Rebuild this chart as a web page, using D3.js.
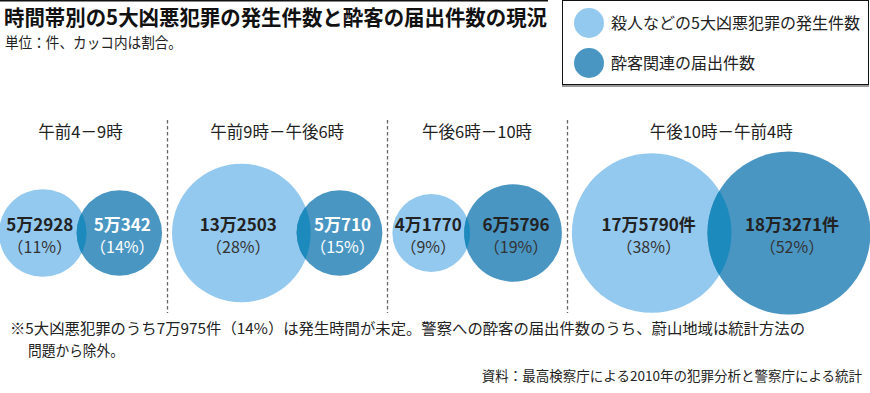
<!DOCTYPE html>
<html>
<head>
<meta charset="utf-8">
<script src="https://cdn.jsdelivr.net/npm/d3@7"></script>
<style>
  body { margin: 0; background: #fff; }
  svg { display: block; font-family: "Noto Sans CJK JP", "Noto Sans", sans-serif; }
</style>
</head>
<body>
<div id="chart"></div>
<script>
// data
const periods = ["午前4－9時", "午前9時－午後6時", "午後6時－10時", "午後10時－午前4時"];
const crimeCounts = [52928, 132503, 41770, 175790];
const crimeLabels = ["5万2928", "13万2503", "4万1770", "17万5790件"];
const crimePct = ["（11%）", "（28%）", "（9%）", "（38%）"];
const drunkCounts = [50342, 50710, 65796, 183271];
const drunkLabels = ["5万342", "5万710", "6万5796", "18万3271件"];
const drunkPct = ["（14%）", "（15%）", "（19%）", "（52%）"];

const legendItems = ["殺人などの5大凶悪犯罪の発生件数", "酔客関連の届出件数"];

const width = 870, height = 393;
const lightBlue = "#93c9ee", darkBlue = "#4a96c3", overlapBlue = "#1c8abd";

const svg = d3.select("#chart").append("svg")
    .attr("width", width)
    .attr("height", height);

// top rule + title
svg.append("line")
    .attr("x1", 0).attr("x2", 548)
    .attr("y1", 0.75).attr("y2", 0.75)
    .attr("stroke", "#111").attr("stroke-width", 1.5);

svg.append("text")
    .attr("x", 4).attr("y", 25)
    .style("font-size", "21px").style("font-weight", "bold")
    .attr("fill", "#111")
    .attr("textLength", 543)
    .attr("lengthAdjust", "spacingAndGlyphs")
    .text("時間帯別の5大凶悪犯罪の発生件数と酔客の届出件数の現況");

svg.append("text")
    .attr("x", 5).attr("y", 48)
    .style("font-size", "15px")
    .attr("fill", "#222")
    .attr("textLength", 177)
    .attr("lengthAdjust", "spacingAndGlyphs")
    .text("単位：件、カッコ内は割合。");

// legend box
const legend = svg.append("g");
legend.append("rect")
    .attr("x", 562.5).attr("y", 0.5)
    .attr("width", 306).attr("height", 84)
    .attr("fill", "#fff").attr("stroke", "#111");
legend.append("line")
    .attr("x1", 562).attr("x2", 869)
    .attr("y1", 86).attr("y2", 86)
    .attr("stroke", "#999").attr("stroke-width", 2);
legend.selectAll("circle")
    .data(legendItems)
    .enter()
    .append("circle")
    .attr("cx", 589)
    .attr("cy", (d, i) => 23 + i * 40)
    .attr("r", 15)
    .attr("fill", (d, i) => i === 0 ? lightBlue : darkBlue);
legend.selectAll("text")
    .data(legendItems)
    .enter()
    .append("text")
    .attr("x", 611)
    .attr("y", (d, i) => 29 + i * 40)
    .style("font-size", "16px")
    .attr("fill", "#222")
    .text(d => d);

// bubble size: area proportional to count
const rScale = d3.scaleSqrt()
    .domain([0, d3.max(crimeCounts.concat(drunkCounts))])
    .range([0, 81.5]);

// layout: groups packed left to right
const overlaps = [10, 14, 6, 24];
const gap = 10;
const cy = 233;

let cursor = -1;
const groups = periods.map((p, i) => {
    const r1 = rScale(crimeCounts[i]);
    const r2 = rScale(drunkCounts[i]);
    const left = cursor;
    const cx1 = left + r1;
    const cx2 = cx1 + r1 + r2 - overlaps[i];
    const right = cx2 + r2;
    cursor = right + gap;
    return {
        period: p, i: i, left: left, right: right,
        r1: r1, r2: r2, cx1: cx1, cx2: cx2
    };
});

// dashed separators between groups
svg.selectAll(".sep")
    .data(groups.slice(1))
    .enter()
    .append("line")
    .attr("class", "sep")
    .attr("x1", d => Math.round(d.left - gap / 2) + 0.5)
    .attr("x2", d => Math.round(d.left - gap / 2) + 0.5)
    .attr("y1", 120).attr("y2", 313)
    .attr("stroke", "#666")
    .attr("stroke-width", 1.3)
    .attr("stroke-dasharray", "3.5,2.5");

// group headings
svg.selectAll(".period")
    .data(groups)
    .enter()
    .append("text")
    .attr("class", "period")
    .attr("x", d => (d.left + d.right) / 2)
    .attr("y", 138)
    .attr("text-anchor", "middle")
    .style("font-size", "16.5px")
    .attr("fill", "#222")
    .text(d => d.period);

const defs = svg.append("defs");
defs.selectAll("clipPath")
    .data(groups)
    .enter()
    .append("clipPath")
    .attr("id", d => "clip-" + d.i)
    .append("circle")
    .attr("cx", d => d.cx2)
    .attr("cy", cy)
    .attr("r", d => d.r2);

const bubbles = svg.selectAll(".pair")
    .data(groups)
    .enter()
    .append("g")
    .attr("class", "pair");

bubbles.append("circle")
    .attr("cx", d => d.cx1).attr("cy", cy)
    .attr("r", d => d.r1)
    .attr("fill", lightBlue);

bubbles.append("circle")
    .attr("cx", d => d.cx2).attr("cy", cy)
    .attr("r", d => d.r2)
    .attr("fill", darkBlue);

// overlapping lens
bubbles.append("circle")
    .attr("cx", d => d.cx1).attr("cy", cy)
    .attr("r", d => d.r1)
    .attr("clip-path", d => `url(#clip-${d.i})`)
    .attr("fill", overlapBlue);

// labels
bubbles.append("text")
    .attr("x", d => d.cx1 - 3)
    .attr("y", cy - 2)
    .attr("text-anchor", "middle")
    .style("font-size", "17px").style("font-weight", "bold")
    .attr("fill", "#222")
    .text(d => crimeLabels[d.i]);
bubbles.append("text")
    .attr("x", d => d.cx1 - 3)
    .attr("y", cy + 20)
    .attr("text-anchor", "middle")
    .style("font-size", "16px")
    .attr("fill", "#333")
    .text(d => crimePct[d.i]);

const darkText = d => d.r2 < 46 ? "#fff" : "#222";
bubbles.append("text")
    .attr("x", d => d.cx2 + 3)
    .attr("y", cy - 2)
    .attr("text-anchor", "middle")
    .style("font-size", "17px").style("font-weight", "bold")
    .attr("fill", darkText)
    .text(d => drunkLabels[d.i]);
bubbles.append("text")
    .attr("x", d => d.cx2 + 3)
    .attr("y", cy + 20)
    .attr("text-anchor", "middle")
    .style("font-size", "16px")
    .attr("fill", d => d.r2 < 46 ? "#fff" : "#333")
    .text(d => drunkPct[d.i]);

// notes
svg.append("text")
    .attr("x", 10).attr("y", 334)
    .style("font-size", "15px")
    .attr("fill", "#222")
    .attr("textLength", 795)
    .attr("lengthAdjust", "spacingAndGlyphs")
    .text("※5大凶悪犯罪のうち7万975件（14%）は発生時間が未定。警察への酔客の届出件数のうち、蔚山地域は統計方法の");
svg.append("text")
    .attr("x", 28).attr("y", 356)
    .style("font-size", "15px")
    .attr("fill", "#222")
    .attr("textLength", 96)
    .attr("lengthAdjust", "spacingAndGlyphs")
    .text("問題から除外。");
svg.append("text")
    .attr("x", 862).attr("y", 381)
    .attr("text-anchor", "end")
    .style("font-size", "13.5px")
    .attr("fill", "#222")
    .text("資料：最高検察庁による2010年の犯罪分析と警察庁による統計");
</script>
</body>
</html>
